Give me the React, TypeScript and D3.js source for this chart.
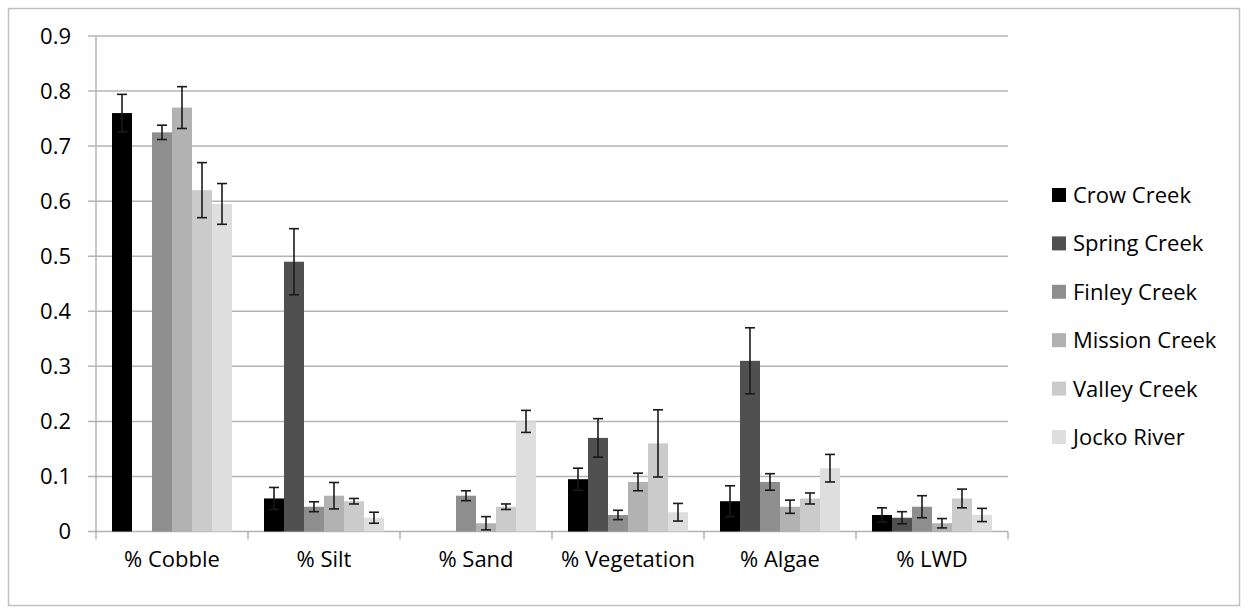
import React from "react";
import * as d3 from "d3";

const categories = ["% Cobble", "% Silt", "% Sand", "% Vegetation", "% Algae", "% LWD"];
const seriesNames = ["Crow Creek", "Spring Creek", "Finley Creek", "Mission Creek", "Valley Creek", "Jocko River"];
const seriesColors = ["#000000", "#505050", "#8e8e8e", "#b2b2b2", "#cbcbcb", "#dedede"];

// values per series, in category order
const crowCreek = [0.76, 0.06, 0, 0.095, 0.055, 0.03];
const springCreek = [0, 0.49, 0, 0.17, 0.31, 0.025];
const finleyCreek = [0.725, 0.045, 0.065, 0.03, 0.09, 0.045];
const missionCreek = [0.77, 0.065, 0.015, 0.09, 0.045, 0.015];
const valleyCreek = [0.62, 0.055, 0.045, 0.16, 0.06, 0.06];
const jockoRiver = [0.595, 0.025, 0.2, 0.035, 0.115, 0.03];

// error bar half-widths
const crowErr = [0.034, 0.02, null, 0.02, 0.028, 0.013];
const springErr = [null, 0.06, null, 0.035, 0.06, 0.011];
const finleyErr = [0.013, 0.009, 0.009, 0.0085, 0.015, 0.02];
const missionErr = [0.038, 0.024, 0.012, 0.016, 0.012, 0.0085];
const valleyErr = [0.05, 0.005, 0.005, 0.061, 0.01, 0.017];
const jockoErr = [0.037, 0.01, 0.02, 0.016, 0.025, 0.012];

const yTicks = [0, 0.1, 0.2, 0.3, 0.4, 0.5, 0.6, 0.7, 0.8, 0.9];

const seriesValues = [crowCreek, springCreek, finleyCreek, missionCreek, valleyCreek, jockoRiver];
const seriesErrors = [crowErr, springErr, finleyErr, missionErr, valleyErr, jockoErr];

const W = 1248;
const H = 614;
const FONT = "'Open Sans', sans-serif";
const FS = 22;

export default function App() {
  const left = 96;
  const right = 1008;
  const top = 36;
  const bottom = 531.5;

  const y = d3.scaleLinear().domain([0, 0.9]).range([bottom, top]);
  const x0 = d3.scaleBand<string>().domain(categories).range([left, right]).paddingInner(0).paddingOuter(0);
  const x1 = d3
    .scaleBand<string>()
    .domain(seriesNames)
    .range([0, x0.bandwidth()])
    .paddingInner(0)
    .paddingOuter(0.8);

  const gridColor = "#b4b4b4";
  const capHalf = 5;

  return (
    <svg width={W} height={H} style={{ position: "absolute", left: 0, top: 0, background: "#fff" }}>
      <rect x={8.5} y={8.5} width={1231} height={597} fill="#fff" stroke="#c0c0c0" strokeWidth={1.5} />
      {/* gridlines */}
      {yTicks.map((t) => (
        <line key={"g" + t} x1={left - 8} x2={right} y1={y(t)} y2={y(t)} stroke={gridColor} strokeWidth={1.5} />
      ))}
      {/* y axis */}
      <line x1={left} x2={left} y1={top} y2={bottom} stroke={gridColor} strokeWidth={1.5} />
      {/* x category ticks */}
      {d3.range(categories.length + 1).map((i) => {
        const xx = left + i * x0.step();
        return <line key={"xt" + i} x1={xx} x2={xx} y1={bottom} y2={bottom + 8} stroke={gridColor} strokeWidth={1.5} />;
      })}
      {/* y labels */}
      {yTicks.map((t) => (
        <text
          key={"yl" + t}
          x={71}
          y={y(t)}
          dy="0.35em"
          textAnchor="end"
          fontFamily={FONT}
          fontSize={FS}
          fill="#000"
        >
          {t === 0 ? "0" : t.toFixed(1)}
        </text>
      ))}
      {/* bars */}
      {seriesNames.map((s, si) =>
        categories.map((c, ci) => {
          const v = seriesValues[si][ci];
          const bx = (x0(c) as number) + (x1(s) as number);
          return (
            <rect
              key={s + c}
              x={bx}
              y={y(v)}
              width={x1.bandwidth()}
              height={bottom - y(v)}
              fill={seriesColors[si]}
            />
          );
        })
      )}
      {/* error bars */}
      {seriesNames.map((s, si) =>
        categories.map((c, ci) => {
          const v = seriesValues[si][ci];
          const e = seriesErrors[si][ci];
          if (e == null) return null;
          const cx = (x0(c) as number) + (x1(s) as number) + x1.bandwidth() / 2;
          const yt = y(v + e);
          const yb = y(Math.max(0, v - e));
          return (
            <g key={"e" + s + c} stroke="#1a1a1a" strokeWidth={1.6}>
              <line x1={cx} x2={cx} y1={yt} y2={yb} />
              <line x1={cx - capHalf} x2={cx + capHalf} y1={yt} y2={yt} />
              <line x1={cx - capHalf} x2={cx + capHalf} y1={yb} y2={yb} />
            </g>
          );
        })
      )}
      {/* category labels */}
      {categories.map((c) => (
        <text
          key={"cl" + c}
          x={(x0(c) as number) + x0.bandwidth() / 2}
          y={567}
          textAnchor="middle"
          fontFamily={FONT}
          fontSize={FS}
          fill="#000"
        >
          {c}
        </text>
      ))}
      {/* legend */}
      {seriesNames.map((s, i) => {
        const cy = 195 + i * 48.4;
        return (
          <g key={"lg" + s}>
            <rect x={1052} y={cy - 7} width={14} height={14} fill={seriesColors[i]} />
            <text x={1073} y={cy} dy="0.36em" fontFamily={FONT} fontSize={FS} fill="#000">
              {s}
            </text>
          </g>
        );
      })}
    </svg>
  );
}
